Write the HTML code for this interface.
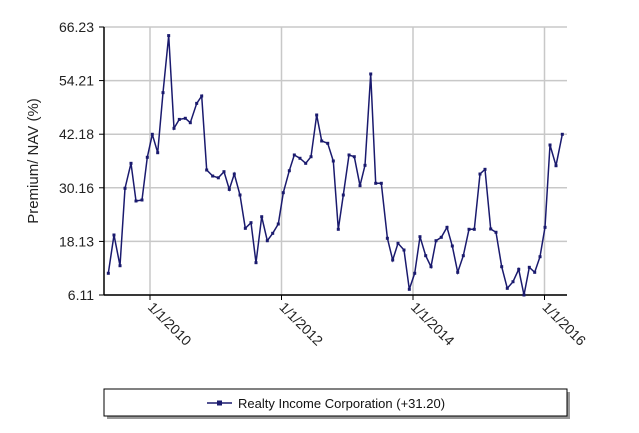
<!DOCTYPE html>
<html><head><meta charset="utf-8"><style>
body{margin:0;background:#fff;}
svg text{font-family:"Liberation Sans",sans-serif;}
</style></head><body>
<svg id="chart" width="639" height="428" xmlns="http://www.w3.org/2000/svg">
<g id="grid"></g>
<g id="axes"></g>
<g id="series"></g>
<text x="0" y="0" transform="translate(38,161) rotate(-90)" text-anchor="middle" font-size="15" fill="#222">Premium/ NAV (%)</text>
<g>
<rect x="107" y="392" width="463" height="27" fill="#999"/>
<rect x="104" y="389" width="463" height="27" fill="#fff" stroke="#000" stroke-width="1"/>
<line x1="207" y1="403" x2="232" y2="403" stroke="#1a1a6e" stroke-width="1.5"/>
<rect x="217" y="400.5" width="5" height="5" fill="#1a1a6e"/>
<text x="238" y="408" font-size="13" fill="#111">Realty Income Corporation (+31.20)</text>
</g>
</svg>
<script>
const dates=[2009.366,2009.452,2009.544,2009.620,2009.711,2009.787,2009.878,2009.959,2010.035,2010.117,2010.198,2010.284,2010.365,2010.446,2010.537,2010.613,2010.710,2010.786,2010.862,2010.953,2011.039,2011.125,2011.206,2011.282,2011.369,2011.450,2011.536,2011.612,2011.699,2011.784,2011.866,2011.951,2012.027,2012.119,2012.195,2012.281,2012.368,2012.449,2012.535,2012.611,2012.703,2012.788,2012.864,2012.940,2013.027,2013.107,2013.194,2013.270,2013.357,2013.433,2013.518,2013.610,2013.691,2013.772,2013.863,2013.944,2014.026,2014.106,2014.193,2014.274,2014.350,2014.430,2014.517,2014.598,2014.680,2014.765,2014.852,2014.932,2015.019,2015.095,2015.182,2015.262,2015.349,2015.434,2015.521,2015.608,2015.688,2015.769,2015.851,2015.932,2016.008,2016.084,2016.175,2016.271];
const values=[10.98,19.57,12.68,30.05,35.65,27.2,27.42,37.0,42.16,38.03,51.5,64.3,43.5,45.5,45.75,44.76,49.1,50.75,34.15,32.8,32.4,33.77,29.8,33.25,28.54,21.07,22.33,13.36,23.67,18.29,19.95,22.04,29.06,33.99,37.52,36.78,35.65,37.13,46.49,40.66,40.14,36.17,20.85,28.54,37.52,37.13,30.63,35.2,55.69,31.17,31.17,18.83,13.96,17.71,16.2,7.39,10.98,19.19,14.93,12.46,18.29,19.05,21.29,17.1,11.2,14.93,20.85,20.85,33.25,34.3,20.92,20.18,12.46,7.61,9.09,11.87,6.11,12.32,11.2,14.7,21.29,39.76,35.11,42.16];
const yTicks=[6.11,18.13,30.16,42.18,54.21,66.23];
const yTickLabels=["6.11","18.13","30.16","42.18","54.21","66.23"];
const xTicks=[2010,2012,2014,2016];
const xTickLabels=["1/1/2010","1/1/2012","1/1/2014","1/1/2016"];
const L=104,R=567,T=27,B=295;
const yMin=6.11,yMax=66.23;
function sx(v){return 150+(v-2010)*65.75;}
function sy(v){return B-(v-yMin)/(yMax-yMin)*(B-T);}
const NS="http://www.w3.org/2000/svg";
function mk(tag,attrs,parent){const e=document.createElementNS(NS,tag);for(const k in attrs)e.setAttribute(k,attrs[k]);parent.appendChild(e);return e;}
const grid=document.getElementById('grid'),axes=document.getElementById('axes'),series=document.getElementById('series');
yTicks.forEach((t,i)=>{
  const y=sy(t);
  const g=mk('line',{x1:L,x2:R,y1:y,y2:y,stroke:'#c8c8c8','stroke-width':1.5},grid);
  
  
  const tk=mk('line',{x1:L-5,x2:L,y1:y,y2:y,stroke:'#000'},axes);
  
  
  const tx=mk('text',{x:L-10,y:y+5,'text-anchor':'end','font-size':14,fill:'#222'},axes);
  tx.textContent=yTickLabels[i];
  
  
});
xTicks.forEach((t,i)=>{
  const x=sx(t);
  const g=mk('line',{x1:x,x2:x,y1:T,y2:B,stroke:'#c8c8c8','stroke-width':1.5},grid);
  
  
  const tk=mk('line',{x1:x,x2:x,y1:B,y2:B+5,stroke:'#000'},axes);
  
  
  const tx=mk('text',{x:0,y:0,'font-size':14,fill:'#222',transform:'translate('+(x-3)+','+(B+13)+') rotate(45)'},axes);
  tx.textContent=xTickLabels[i];
  
  
});
const ya=mk('line',{x1:L,x2:L,y1:T,y2:B,stroke:'#000','stroke-width':1.5},axes);


const xa=mk('line',{x1:L,x2:R,y1:B,y2:B,stroke:'#000','stroke-width':1.5},axes);


const pts=dates.map((d,i)=>sx(d).toFixed(1)+','+sy(values[i]).toFixed(1)).join(' ');
const pl=mk('polyline',{points:pts,fill:'none',stroke:'#1a1a6e','stroke-width':1.5},series);


dates.forEach((d,i)=>{
  const p=mk('rect',{x:sx(d)-1.5,y:sy(values[i])-1.5,width:3,height:3,fill:'#1a1a6e'},series);
  
  
});
</script>
</body></html>
